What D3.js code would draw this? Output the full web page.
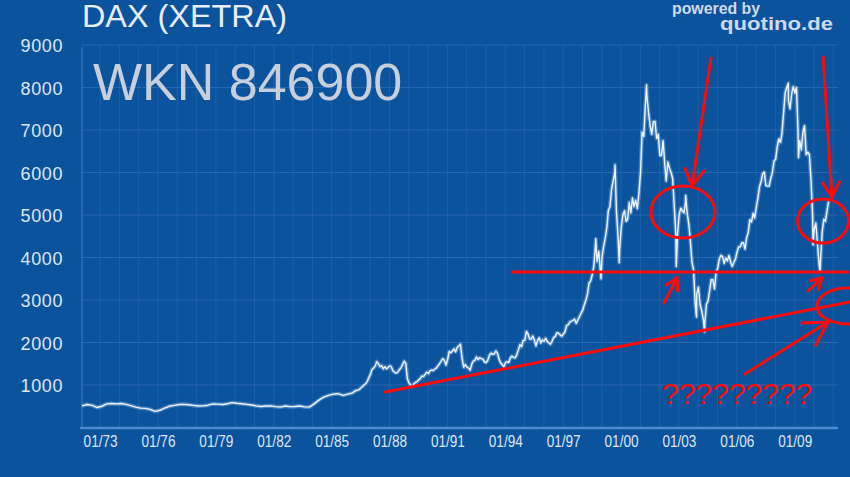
<!DOCTYPE html>
<html><head><meta charset="utf-8">
<script src="https://cdn.jsdelivr.net/npm/d3@7"></script>
<style>html,body{margin:0;padding:0;background:#0c539e;overflow:hidden}</style>
</head><body>
<svg id="c" width="850" height="477"></svg>
<script>
// ---------------- DATA ----------------
const title = "DAX (XETRA)";
const subtitle = "WKN 846900";
const yTicks = [1000, 2000, 3000, 4000, 5000, 6000, 7000, 8000, 9000];
const xTickYears = [1973, 1976, 1979, 1982, 1985, 1988, 1991, 1994, 1997, 2000, 2003, 2006, 2009];
const xTickLabels = ["01/73", "01/76", "01/79", "01/82", "01/85", "01/88", "01/91", "01/94", "01/97", "01/00", "01/03", "01/06", "01/09"];

// quarterly readings before 1985
const earlyDates = ["1970-12-01","1971-03","1971-06","1971-09","1971-12","1972-03","1972-06","1972-09","1972-12",
  "1973-03","1973-06","1973-09","1973-12","1974-03","1974-06","1974-09","1974-12","1975-03","1975-06","1975-09","1975-12",
  "1976-03","1976-06","1976-09","1976-12","1977-03","1977-06","1977-09","1977-12","1978-03","1978-06","1978-09","1978-12",
  "1979-03","1979-06","1979-09","1979-12","1980-03","1980-06","1980-09","1980-12","1981-03","1981-06","1981-09","1981-12",
  "1982-03","1982-06","1982-09","1982-12","1983-03","1983-06","1983-09","1983-12","1984-03","1984-06","1984-09","1984-12"];
const earlyValues = [510,540,520,470,500,555,565,555,565,
  545,515,480,455,450,425,380,405,455,500,520,540,
  545,535,520,505,510,525,555,550,540,560,585,570,
  560,545,530,510,495,505,510,490,480,505,490,495,
  505,485,480,555,645,715,755,785,795,755,785,815];

// monthly readings Jan 1985 .. Aug 2009
const monthlyStart = [1985, 0];
const monthlyValues = [
  850, 870, 880, 890, 930, 960, 1000, 1030, 1080, 1170, 1250, 1366,   // 1985
  1400, 1450, 1550, 1500, 1430, 1460, 1380, 1430, 1380, 1410, 1450, 1430, // 1986
  1330, 1300, 1280, 1300, 1360, 1400, 1480, 1560, 1510, 1150, 1050, 1000, // 1987
  960, 1030, 1060, 1080, 1120, 1150, 1210, 1200, 1250, 1300, 1270, 1330,  // 1988
  1350, 1340, 1370, 1400, 1450, 1500, 1560, 1620, 1580, 1470, 1600, 1790, // 1989
  1760, 1800, 1850, 1780, 1880, 1920, 1960, 1640, 1420, 1480, 1420, 1400, // 1990
  1350, 1490, 1560, 1580, 1660, 1600, 1640, 1620, 1610, 1540, 1530, 1580, // 1991
  1700, 1750, 1720, 1730, 1800, 1750, 1610, 1520, 1480, 1430, 1530, 1545, // 1992
  1530, 1640, 1680, 1650, 1640, 1710, 1820, 1950, 1900, 2050, 2050, 2260, // 1993
  2200, 2080, 2080, 2150, 2060, 1920, 2050, 2110, 1990, 2060, 2030, 2100, // 1994
  2020, 1990, 1960, 2030, 2120, 2140, 2230, 2220, 2180, 2150, 2200, 2250, // 1995
  2400, 2420, 2480, 2500, 2520, 2550, 2450, 2530, 2610, 2690, 2760, 2890, // 1996
  3000, 3150, 3400, 3450, 3600, 3800, 4300, 3900, 4150, 3700, 4000, 4250, // 1997
  4450, 4700, 5100, 5200, 5600, 5800, 6000, 5100, 4500, 4200, 4700, 5000, // 1998
  5100, 4850, 4900, 5300, 5050, 5400, 5200, 5350, 5150, 5500, 6000, 6950, // 1999
  6850, 7600, 7800, 7400, 7100, 6900, 7200, 7200, 6800, 6900, 6400, 6400, // 2000
  6750, 6200, 5800, 6250, 6100, 6000, 5850, 5200, 4500, 4550, 5000, 5160, // 2001
  5100, 5050, 5300, 5050, 4800, 4400, 3900, 3700, 2900, 3150, 3300, 2900, // 2002
  2750, 2550, 2450, 2900, 2980, 3220, 3480, 3480, 3260, 3650, 3750, 3960, // 2003
  4050, 4020, 3860, 3990, 3920, 4050, 3900, 3790, 3890, 3960, 4130, 4250, // 2004
  4250, 4350, 4350, 4200, 4460, 4590, 4890, 4830, 5040, 4930, 5190, 5400, // 2005
  5670, 5800, 5970, 6010, 5690, 5680, 5680, 5860, 6000, 6270, 6310, 6600, // 2006
  6790, 6710, 6920, 7400, 7880, 8000, 7700, 7500, 7860, 8020, 7870, 8000, // 2007
  6900, 6750, 6530, 6950, 7100, 6420, 6480, 6420, 5830, 4990, 4670, 4810, // 2008
  4340, 3840, 3950, 4600, 4900, 4850, 5100, 5320                          // 2009
];

// intramonth extremes
const spikeDates = ["1997-07-20","1997-10-28","1998-07-20","1998-10-08","2000-03-07","2001-09-21",
  "2002-03-18","2002-10-09","2003-03-12","2007-07-13","2008-01-22","2008-10-24","2009-03-06"];
const spikeValues = [4440, 3500, 6180, 3880, 8060, 3790, 5460, 2600, 2250, 8100, 6350, 4300, 3670];

// hand-drawn annotations (decimal year, index value)
const supportLevel = { from: 1993.21, to: 2010.62, value: 3660 };
const trendLine = [[1986.63, 835], [2010.72, 2953]];
const circles = [ { year: 2002.07, value: 5071, rx: 32, ry: 26 },
                  { year: 2009.33, value: 4859, rx: 25.5, ry: 22 },
                  { year: 2010.62, value: 2859, rx: 31, ry: 18 } ];
const arrows = [ { from: [2003.52, 8694], to: [2002.54, 5682], head: 19 },
                 { from: [2009.33, 8718], to: [2009.79, 5424], head: 17 },
                 { from: [2001.09, 2929], to: [2001.76, 3518], head: 13 },
                 { from: [2008.55, 3212], to: [2009.27, 3518], head: 12 },
                 { from: [2005.28, 1259], to: [2009.58, 2482], head: 26 } ];
const questionNote = { year: 2000.98, value: 600, text: "?????????" };

// ---------------- CHART ----------------
const W = 850, H = 477;
const svg = d3.select('#c');
const bg = "#0c539e";
const font = "'Liberation Sans', Arial, sans-serif";

function parseDate(s) { const p = s.split('-').map(Number); return new Date(p[0], p[1] - 1, p[2] || 15); }
function yr(d) { const Y = Math.floor(d); const a = new Date(Y, 0, 1), b = new Date(Y + 1, 0, 1); return new Date(+a + (d - Y) * (b - a)); }

let series = earlyDates.map((d, i) => ({ date: parseDate(d), value: earlyValues[i] }));
monthlyValues.forEach((v, i) => series.push({ date: new Date(monthlyStart[0], monthlyStart[1] + i, 15), value: v }));
spikeDates.forEach((d, i) => series.push({ date: parseDate(d), value: spikeValues[i] }));
series.sort((a, b) => a.date - b.date);

const x = d3.scaleTime().domain([new Date(1971, 0, 1), new Date(2010, 0, 1)]).range([83.5, 836]);
const y = d3.scaleLinear().domain([0, 9000]).range([427.5, 45]);
const plotL = 82, plotR = 838, plotT = 45, plotB = 428;
const labelShift = -22;

svg.append('rect').attr('width', W).attr('height', H).attr('fill', bg);

// grid
const gridYears = d3.range(1972, 2012).filter(d => {
  const gx = x(new Date(d, 0, 1)) + labelShift; return gx >= plotL && gx <= plotR; });
svg.append('g').selectAll('line').data(gridYears).join('line')
  .attr('x1', d => x(new Date(d, 0, 1)) + labelShift).attr('x2', d => x(new Date(d, 0, 1)) + labelShift)
  .attr('y1', plotT).attr('y2', plotB)
  .attr('stroke', '#2c6cb0').attr('stroke-width', 1).attr('opacity', 0.55);
svg.append('g').selectAll('line').data(yTicks).join('line')
  .attr('x1', plotL).attr('x2', plotR).attr('y1', d => y(d)).attr('y2', d => y(d))
  .attr('stroke', '#3270b4').attr('stroke-width', 1).attr('opacity', 0.7);

// axes
const yAxis = svg.append('g').attr('transform', `translate(${plotL},0)`)
  .call(d3.axisLeft(y).tickValues(yTicks).tickSize(0).tickPadding(19).tickFormat(d3.format('d')));
yAxis.select('.domain').remove();
yAxis.selectAll('text').attr('fill', '#dce6f2').attr('font-family', font).attr('font-size', 18)
  .attr('letter-spacing', 0.6).attr('dy', '0.38em');

const xAxis = svg.append('g').attr('transform', `translate(0,${plotB})`)
  .call(d3.axisBottom(x).tickValues(xTickYears.map(v => new Date(v, 0, 1))).tickSize(0)
    .tickFormat((d, i) => xTickLabels[i]));
xAxis.select('.domain').remove();
xAxis.selectAll('text').attr('fill', '#dce6f2').attr('font-family', font).attr('font-size', 16)
  .attr('dx', labelShift).attr('y', 19).attr('dy', 0)
  .attr('textLength', 34).attr('lengthAdjust', 'spacingAndGlyphs');

svg.append('line').attr('x1', plotL).attr('x2', plotL).attr('y1', plotT + 2).attr('y2', plotB)
  .attr('stroke', '#3f7bbd').attr('stroke-width', 1);
svg.append('line').attr('x1', plotL - 2).attr('x2', plotR).attr('y1', plotB).attr('y2', plotB)
  .attr('stroke', '#4a8ad0').attr('stroke-width', 2.5);

// line
const line = d3.line().x(d => x(d.date)).y(d => y(d.value));
svg.append('path').datum(series).attr('d', line).attr('fill', 'none')
  .attr('stroke', '#8fb8e6').attr('stroke-width', 4).attr('opacity', 0.45).attr('stroke-linejoin', 'round');
svg.append('path').datum(series).attr('d', line).attr('fill', 'none')
  .attr('stroke', '#eef4fb').attr('stroke-width', 1.4).attr('stroke-linejoin', 'round');

// titles
svg.append('text').attr('x', 82).attr('y', 27).text(title)
  .attr('fill', '#e6edf6').attr('font-family', font).attr('font-size', 31)
  .attr('textLength', 205).attr('lengthAdjust', 'spacingAndGlyphs');
svg.append('text').attr('x', 93).attr('y', 100).text(subtitle)
  .attr('fill', '#c6cfdb').attr('font-family', font).attr('font-size', 52);
svg.append('text').attr('x', 672).attr('y', 14).text('powered by')
  .attr('fill', '#cdd9e8').attr('font-family', font).attr('font-size', 16).attr('font-weight', 'bold')
  .attr('textLength', 88).attr('lengthAdjust', 'spacingAndGlyphs');
svg.append('text').attr('x', 720).attr('y', 30).text('quotino.de')
  .attr('fill', '#cdd9e8').attr('font-family', font).attr('font-size', 18).attr('font-weight', 'bold')
  .attr('textLength', 113).attr('lengthAdjust', 'spacingAndGlyphs');

// annotations
const red = '#ff0a0a', rw = 3;
const ann = svg.append('g').attr('fill', 'none').attr('stroke', red).attr('stroke-width', rw).attr('stroke-linecap', 'round');
ann.append('line').attr('x1', x(yr(supportLevel.from))).attr('x2', x(yr(supportLevel.to)))
  .attr('y1', y(supportLevel.value)).attr('y2', y(supportLevel.value));
ann.append('line').attr('x1', x(yr(trendLine[0][0]))).attr('y1', y(trendLine[0][1]))
  .attr('x2', x(yr(trendLine[1][0]))).attr('y2', y(trendLine[1][1]));
ann.selectAll('ellipse').data(circles).join('ellipse')
  .attr('cx', d => x(yr(d.year))).attr('cy', d => y(d.value)).attr('rx', d => d.rx).attr('ry', d => d.ry);
arrows.forEach(a => {
  const x0 = x(yr(a.from[0])), y0 = y(a.from[1]), x1 = x(yr(a.to[0])), y1 = y(a.to[1]);
  const ang = Math.atan2(y0 - y1, x0 - x1), s = Math.PI / 6;
  ann.append('line').attr('x1', x0).attr('y1', y0).attr('x2', x1).attr('y2', y1);
  const h1 = [x1 + a.head * Math.cos(ang + s), y1 + a.head * Math.sin(ang + s)];
  const h2 = [x1 + a.head * Math.cos(ang - s), y1 + a.head * Math.sin(ang - s)];
  ann.append('path').attr('d', `M${h1[0]},${h1[1]}L${x1},${y1}L${h2[0]},${h2[1]}`);
});
svg.append('text').attr('x', x(yr(questionNote.year))).attr('y', y(questionNote.value) + 2)
  .text(questionNote.text).attr('fill', red).attr('font-family', font).attr('font-size', 30);
</script>
</body></html>
